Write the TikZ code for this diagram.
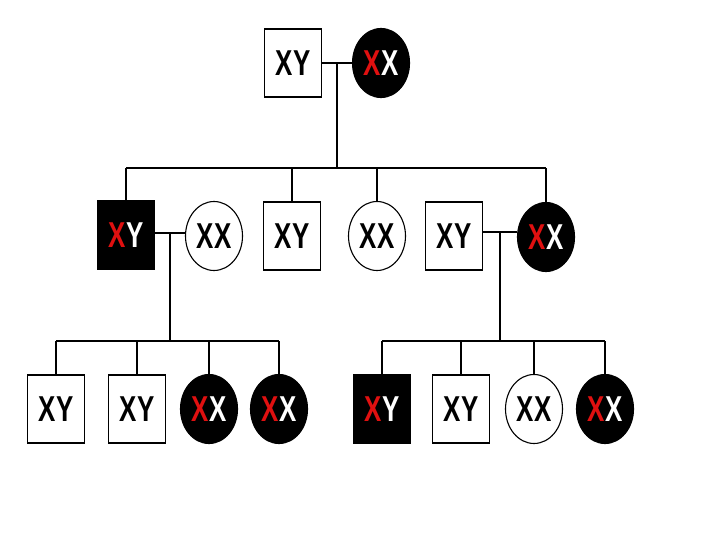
\documentclass[tikz,border=0pt]{standalone}
\usepackage{fontspec}
\usepackage{tikz}
\usetikzlibrary{calc,shapes.geometric}
\newfontfamily\gfont[FakeStretch=0.72]{Liberation Sans}
\definecolor{XRed}{HTML}{E01010}
\newcommand{\xy}{XY}
\newcommand{\xx}{XX}
\newcommand{\axy}{\textcolor{XRed}{X}Y}
\newcommand{\axx}{\textcolor{XRed}{X}X}

\begin{document}
\begin{tikzpicture}[x=1pt,y=-1pt,
      font=\gfont\bfseries\fontsize{36}{36}\selectfont,
      male/.style={draw,line width=1.4pt,fill=white,inner sep=0pt,
                   minimum width=57pt,minimum height=68pt},
      female/.style={ellipse,draw,line width=1.1pt,fill=white,inner sep=0pt,
                     minimum width=57pt,minimum height=69pt},
      sick/.style={fill=black,text=white},
      line/.style={line width=1.4pt}]
    \useasboundingbox[fill=white] (0,0) rectangle (720,540);

    % Parents.
    \node[male] (dad) at (293,63) {\xy};
    \node[female,sick] (mum) at (381,63) {\axx};
    \draw[line] (dad.east) -- (mum.west);
    \coordinate (u0) at ($(dad.east)!0.5!(mum.west)$);
    \coordinate (s0) at (336,168);

    % Second generation.
    \node[male,sick] (kidA) at (126,235) {\axy};
    \node[female] (wifeA) at (214,236) {\xx};
    \node[male] (kidB) at (292,236) {\xy};
    \node[female] (kidC) at (377,236) {\xx};
    \node[male] (husbD) at (454,236) {\xy};
    \node[female,sick] (kidD) at (546,237) {\axx};
    \draw[line] (u0) -- (u0 |- s0);
    \draw[line] (kidA.north |- s0) -- (kidD.north |- s0);
    \foreach \k in {kidA,kidB,kidC,kidD}{%
      \draw[line] (\k.north) -- (\k.north |- s0);
    }
    \draw[line] (kidA.east |- 0,233) -- (wifeA.west |- 0,233);
    \draw[line] (husbD.east |- 0,232) -- (kidD.west |- 0,232);
    \coordinate (uA) at ($(kidA.east |- 0,233)!0.5!(wifeA.west |- 0,233)$);
    \coordinate (uD) at ($(husbD.east |- 0,232)!0.5!(kidD.west |- 0,232)$);
    \coordinate (s1) at (0,341);

    % Third generation.
    \node[male] (gA1) at (56,409) {\xy};
    \node[male] (gA2) at (137,409) {\xy};
    \node[female,sick] (gA3) at (209,409) {\axx};
    \node[female,sick] (gA4) at (279,409) {\axx};
    \node[male,sick] (gD1) at (382,409) {\axy};
    \node[male] (gD2) at (461,409) {\xy};
    \node[female] (gD3) at (534,409) {\xx};
    \node[female,sick] (gD4) at (605,409) {\axx};
    \draw[line] (uA) -- (uA |- s1);
    \draw[line] (uD) -- (uD |- s1);
    \draw[line] (gA1.north |- s1) -- (gA4.north |- s1);
    \draw[line] (gD1.north |- s1) -- (gD4.north |- s1);
    \foreach \g in {gA1,gA2,gA3,gA4,gD1,gD2,gD3,gD4}{%
      \draw[line] (\g.north) -- (\g.north |- s1);
    }
  \end{tikzpicture}
\end{document}
